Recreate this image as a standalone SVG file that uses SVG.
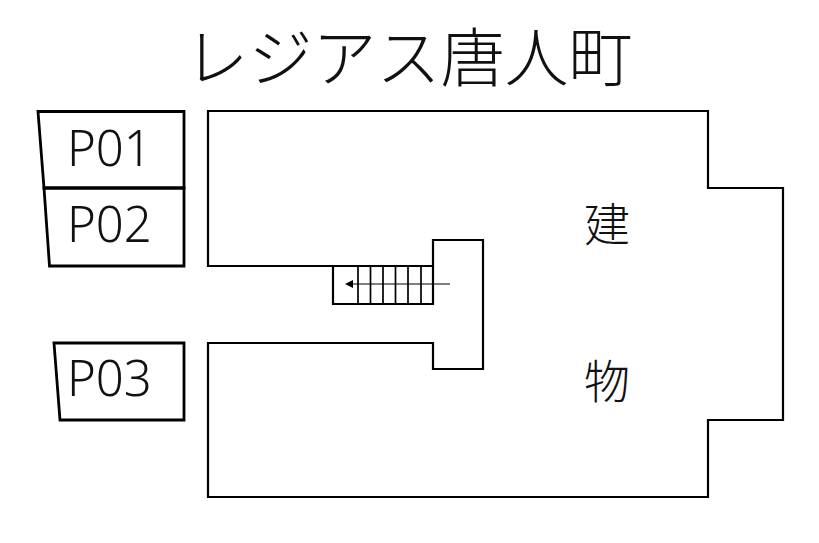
<svg xmlns="http://www.w3.org/2000/svg" width="819" height="543" viewBox="0 0 819 543">
<style>
.l{fill:none;stroke:#000;stroke-width:2.8}
.b{stroke-width:2.2}
.s{fill:none;stroke:#000;stroke-width:1.7}
.p{font-family:"Noto Sans","Liberation Sans",sans-serif;font-size:49px;font-weight:300;fill:#111}
.j{font-family:"Noto Sans CJK JP",sans-serif;font-weight:300;fill:#111}
</style>
<rect width="819" height="543" fill="#fff"/>
<text class="j" x="408.500" y="81" font-size="64" text-anchor="middle">レジアス唐人町</text>
<g id="P01"><path class="l" d="M38 111.500H184V188H44z"/><text class="p" x="67" y="166">P01</text></g>
<g id="P02"><path class="l" d="M44 188H184V266H49.500z"/><text class="p" x="67" y="242">P02</text></g>
<g id="P03"><path class="l" d="M54 343H184V420H60z"/><text class="p" x="67" y="396">P03</text></g>
<g id="building"><path class="l b" d="M208 111H708V188H783V420H708V497H208V343H433V369H483V240H433V266H208z"/>
<text class="j" x="607" y="241" font-size="46" text-anchor="middle">建</text><text class="j" x="607" y="398" font-size="46" text-anchor="middle">物</text></g>
<g id="stairs"><path class="l b" d="M333 266V304H433V266"/><path class="s" d="M358 266V304M370.500 266V304M383 266V304M395.500 266V304M408 266V304M421 266V304"/></g>
<g id="connectors"><line x1="450" y1="284" x2="350" y2="284" stroke="#000" stroke-width="1"/><path d="M345 284L353 280V288z"/></g>
</svg>
